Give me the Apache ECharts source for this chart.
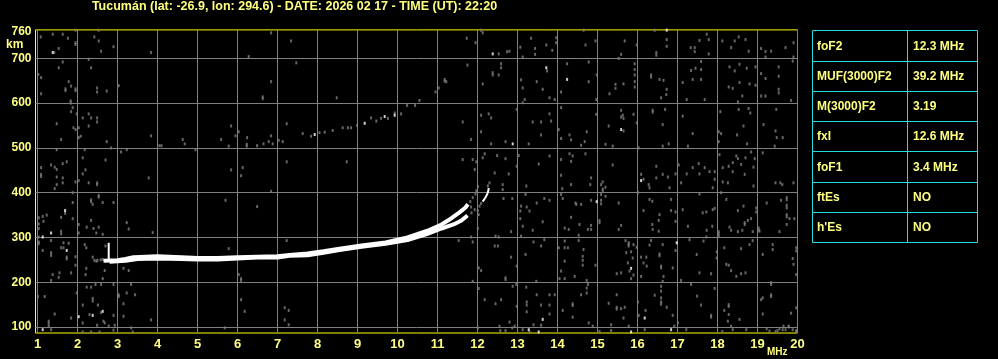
<!DOCTYPE html>
<html><head><meta charset="utf-8">
<script src="https://cdn.jsdelivr.net/npm/echarts@6/dist/echarts.min.js"></script>
<style>html,body{margin:0;padding:0;background:#000;}#c{width:998px;height:359px;}</style>
</head><body><div id="c"></div>
<script>
const titleText = 'Tucumán (lat: -26.9, lon: 294.6) - DATE: 2026 02 17 - TIME (UT): 22:20';
const freqTicks = [1,2,3,4,5,6,7,8,9,10,11,12,13,14,15,16,17,18,19,20];
const heightTicks = [100,200,300,400,500,600,700];
const heightLabels = [100,200,300,400,500,600,700,760];
const tableNames = ['foF2','MUF(3000)F2','M(3000)F2','fxI','foF1','ftEs',"h'Es"];
const tableValues = ['12.3 MHz','39.2 MHz','3.19','12.6 MHz','3.4 MHz','NO','NO'];

const traceO = [[2.65,248],[3.0,249],[3.2,252],[3.4,256],[4.0,258],[4.6,256],[5.0,254],[5.5,254],[6.0,256],[6.5,257],[7.0,258],[7.3,261],[7.75,264],[8.15,269],[8.55,275],[9.1,282],[9.7,289],[10.25,300],[10.75,315],[11.1,329],[11.35,343],[11.55,356],[11.7,367],[11.76,374]];
const traceX = [[2.8,246],[3.2,248],[3.5,252],[4.0,253],[4.6,252],[5.0,251],[5.5,251],[6.0,253],[6.5,255],[7.0,255],[7.3,259],[7.75,260],[8.15,266],[8.55,272],[9.1,279],[9.7,286],[10.25,294],[10.75,308],[11.1,320],[11.4,329],[11.6,338],[11.75,349]];
const traceXEnd = [[12.13,380],[12.19,388],[12.24,396],[12.27,404],[12.28,410]];
const spike = [[2.78,252],[2.78,288]];
const traceGray = [[11.82,380],[11.88,389],[11.95,397],[11.97,404],[12.01,414],[11.85,355],[11.93,362],[12.05,370],[12.09,376],[2.42,249],[2.5,249],[2.58,250]];

const noiseWhite = [[1.38,713],[1.69,360],[1.34,310],[1.13,301],[1.73,271],[2.63,135],[2.38,126],[2.03,123],[1.13,94],[7.93,530],[9.18,555],[9.68,570],[9.93,573],[12.38,710],[12.88,509],[13.28,94],[13.63,117],[13.53,89],[16.73,763],[13.72,679],[14.24,653],[15.59,541],[16.09,427],[14.98,380],[15.84,231],[16.98,288],[15.84,89],[16.18,120],[16.84,94]];

const noiseGrayLeft = [[1.08,748],[1.38,754],[1.63,754],[1.76,745],[1.95,763],[1.95,735],[1.95,731],[2.42,748],[2.53,763],[2.53,739],[2.59,716],[2.90,726],[1.53,722],[1.42,713],[3.84,713],[6.28,704],[6.84,757],[7.34,739],
[1.63,692],[2.28,698],[1.53,679],[2.34,679],[1.09,657],[1.78,648],[1.70,632],[1.70,628],[1.84,638],[1.95,632],[1.95,628],[2.49,634],[2.49,625],[2.73,627],[3.03,639],[1.09,621],[1.83,605],[1.83,600],[6.63,614],[6.63,610],[6.84,648],[1.02,664],
[1.88,590],[1.84,581],[1.98,576],[2.13,567],[2.28,576],[2.34,567],[2.49,567],[2.49,558],[1.48,554],[2.03,545],[2.28,549],[1.90,545],[1.95,541],[2.08,526],[2.03,523],[1.59,519],[2.73,514],[3.84,527],[4.63,519],[4.68,509],[5.59,519],[5.84,549],[6.03,536],[5.95,527],[6.24,523],[6.23,508],[6.23,504],[6.49,505],[6.65,509],[6.78,514],[6.88,509],[6.84,527],[7.03,517],[7.13,514],[7.23,554],[5.78,504],[4.05,505],[4.10,505],[2.84,500],
[1.48,496],[2.18,496],[3.09,491],[3.23,496],[2.13,478],[2.70,473],[1.73,469],[1.63,465],[1.34,462],[1.09,456],[1.43,457],[1.48,452],[2.20,451],[2.13,442],[1.09,441],[1.09,436],[1.48,435],[1.63,433],[1.63,422],[1.48,418],[1.95,424],[2.03,427],[2.28,422],[2.49,422],[2.49,418],[1.43,409],[3.78,433],[4.95,496],[5.84,451],[6.13,456],[6.09,438],[7.23,469],[6.84,403],
[1.88,400],[2.53,394],[2.53,390],[2.34,384],[2.34,380],[2.63,378],[2.90,378],[1.88,378],[2.38,374],[1.69,354],[1.13,347],[1.23,350],[1.59,345],[1.03,344],[1.88,342],[2.34,338],[1.15,336],[1.03,330],[2.03,329],[2.23,323],[2.40,320],[2.53,323],[1.03,320],[1.59,314],[1.59,308],[3.23,333],[3.28,319],[3.88,311],[5.70,383],[6.49,369],[2.03,310],[2.47,310],[2.63,307],[1.03,301],
[1.03,286],[1.03,290],[1.34,293],[1.65,288],[1.78,287],[1.59,277],[1.65,277],[1.34,266],[1.34,260],[1.73,256],[1.73,252],[1.13,271],[2.18,284],[2.22,277],[1.95,257],[2.70,281],[1.95,238],[2.38,256],[2.47,247],[2.63,251],[2.22,231],[2.68,226],[1.55,221],[1.84,221],[1.38,217],[1.53,211],[1.34,204],[2.20,217],[3.15,231],[3.28,226],[2.63,208],[5.78,275],[6.03,217],[6.09,208],[6.09,204],[7.23,293],
[2.23,189],[2.34,189],[2.45,195],[2.59,195],[2.90,195],[3.34,195],[3.03,172],[3.03,168],[3.23,176],[3.44,172],[1.18,168],[1.01,168],[1.98,176],[2.38,164],[2.38,158],[2.51,149],[2.13,149],[3.15,152],[3.15,124],[2.90,126],[2.59,132],[2.30,128],[1.84,120],[1.43,129],[1.28,113],[1.28,108],[1.28,102],[2.13,109],[2.49,104],[2.68,109],[2.78,102],[2.93,104],[2.65,113],[3.84,116],[6.09,161],[6.18,135],[7.18,143],[7.28,137],[7.18,116],[7.28,105],
[1.34,94],[2.13,89],[2.34,89],[2.55,89],[2.90,93],[3.34,98],[3.38,89],[5.68,98]];

const noiseGrayMid = [[7.47,690],[7.63,532],[7.84,526],[8.05,534],[8.18,535],[8.38,539],[8.63,545],[8.76,545],[8.84,545],[8.99,550],[9.34,567],[9.47,560],[9.59,566],[9.76,566],[9.93,578],[10.09,576],[10.24,595],[10.44,595],[10.55,606],[10.95,625],[11.03,634],[11.18,649],[11.18,653],[11.22,648],[8.48,612],[8.73,469],
[11.73,745],[11.95,735],[12.09,763],[12.13,757],[12.53,710],[12.74,715],[12.80,716],[13.07,725],[13.13,703],[13.34,745],[13.44,722],[13.44,709],[11.75,685],[12.38,668],[12.38,663],[12.53,663],[12.59,679],[12.59,688],[12.13,643],[13.09,652],[13.13,634],[13.48,648],[13.63,631],[13.18,608],[13.13,601],[12.98,586],[12.09,573],[12.28,576],[12.34,567],[11.63,558],[13.38,558],[13.59,558],[13.59,529],[12.09,536],[11.84,519],[12.34,509],[12.70,514],[13.28,509],[12.18,487],[12.13,478],[11.63,474],[11.88,474],[11.97,469],[12.49,483],[12.70,476],[13.03,483],[13.53,464],[11.93,452],[12.43,444],[12.78,442],[12.98,459],[12.30,422],[12.63,418],[12.63,407],[12.65,387],[12.26,415],[12.87,387],[13.09,370],[13.2,396],[13.22,415],[13.67,387],[13.48,377],[13.07,359],[13.23,368],[13.07,342],[13.13,325],[13.30,359],[13.38,316],[13.63,335],[12.84,313],[12.45,303],[12.53,301],[11.84,301],[11.88,290],[11.53,293],[12.01,320],[12.43,281],[12.51,281],[13.09,303],[13.40,290],[13.67,295],[13.59,281],[12.84,256],[12.98,236],[13.20,262],[12.03,232],[12.09,226],[12.70,206],[12.70,210],[12.97,195],[12.88,191],[11.88,202],[12.03,186],[13.22,189],[13.47,202],[13.48,172],[13.23,156],[13.23,149],[13.23,134],[13.59,149],[12.18,161],[12.59,161],[12.45,152],[12.98,146],[12.80,111],[12.93,102],[12.55,102],[12.57,92],[12.70,92],[12.87,98],[13.40,105],[13.59,104],[13.30,89],[13.13,94],[12.01,98],[12.01,360],[12.03,351],[11.84,368]];

const noiseGrayRight = [[13.97,746],[13.97,735],[14.65,763],[14.70,730],[14.95,739],[15.59,709],[15.68,739],[15.53,700],[15.98,730],[16.47,713],[16.47,707],[16.43,763],[16.73,742],[16.73,727],[17.33,724],[17.43,724],[17.43,715],[17.55,740],[17.73,754],[17.78,742],[17.78,710],[18.12,739],[18.34,724],[18.43,739],[18.53,748],[18.70,742],[18.78,716],[19.09,722],[19.20,715],[19.34,716],[19.20,703],[19.70,724],[19.90,735],[19.90,703],[13.72,730],[13.87,718],
[13.74,672],[14.24,688],[14.78,692],[14.78,648],[14.09,625],[13.80,612],[13.93,608],[15.45,642],[15.45,633],[15.30,621],[15.65,643],[15.93,688],[15.93,675],[15.93,663],[15.93,648],[15.93,636],[14.98,663],[14.97,608],[16.34,663],[16.34,658],[16.55,653],[16.65,651],[16.73,631],[16.59,612],[16.72,619],[17.13,646],[17.23,608],[17.34,673],[17.45,678],[17.59,693],[17.59,675],[17.38,653],[17.59,653],[17.68,608],[18.30,681],[18.43,672],[18.55,687],[18.73,678],[18.95,681],[18.28,636],[18.38,633],[18.55,646],[18.80,643],[18.62,616],[18.95,640],[18.51,603],[19.09,666],[19.20,655],[19.09,616],[19.20,616],[19.53,681],[19.53,660],[19.53,631],[19.53,623],[19.88,694],[19.84,606],
[14.09,590],[13.80,576],[13.84,560],[14.03,541],[14.09,521],[14.30,529],[14.34,518],[14.59,506],[14.73,536],[14.68,514],[15.59,584],[15.63,573],[15.59,569],[15.65,566],[15.90,575],[15.98,556],[15.65,538],[15.28,549],[15.20,508],[15.38,504],[14.97,575],[16.38,584],[16.38,580],[16.63,552],[16.69,586],[17.13,571],[17.38,532],[16.63,504],[16.78,509],[16.03,500],[17.26,504],[18.07,581],[18.03,536],[18.09,532],[18.03,514],[18.49,529],[18.53,586],[18.65,549],[18.74,509],[18.78,588],[18.82,578],[19.15,552],[19.45,538],[19.47,586],[19.48,523],[19.63,523],[19.43,504],
[13.80,482],[14.09,474],[14.30,487],[14.38,482],[14.34,470],[14.70,487],[15.38,462],[14.09,439],[14.34,418],[14.82,418],[14.12,409],[14.84,433],[15.09,418],[15.13,424],[15.20,412],[15.13,403],[15.13,408],[16.09,441],[16.15,430],[16.28,418],[16.30,411],[16.47,433],[16.47,459],[16.63,441],[16.76,435],[16.80,411],[16.95,442],[17.03,462],[17.09,422],[17.23,442],[17.38,456],[17.53,465],[17.55,442],[17.68,456],[17.80,447],[17.93,430],[17.93,447],[17.88,411],[18.13,456],[18.28,459],[18.38,447],[18.47,482],[18.38,467],[18.51,476],[18.59,463],[18.68,441],[18.70,478],[18.84,491],[18.93,476],[18.90,457],[18.90,415],[19.13,489],[19.45,422],[19.57,422],[19.62,418],[19.90,422],[18.05,485],[18.13,424],[18.26,422],
[13.80,383],[14.09,396],[14.13,387],[14.47,374],[14.59,374],[14.45,377],[14.84,383],[15.09,396],[15.09,383],[15.09,375],[15.20,392],[15.53,377],[14.34,345],[14.55,329],[14.84,327],[14.84,318],[14.18,321],[14.28,318],[14.53,305],[14.76,318],[15.05,338],[15.05,333],[15.53,318],[15.59,327],[16.01,401],[16.15,360],[16.30,385],[16.37,381],[16.55,351],[16.53,338],[16.37,329],[16.38,318],[16.53,314],[16.84,385],[16.84,360],[16.95,357],[16.95,336],[17.13,362],[17.26,325],[17.55,397],[17.63,355],[17.72,357],[17.73,316],[17.72,301],[17.87,325],[17.88,362],[17.93,365],[18.03,308],[18.03,303],[18.03,313],[18.09,400],[18.22,385],[18.30,323],[18.34,316],[18.51,360],[18.65,370],[18.51,313],[18.62,316],[18.68,333],[18.68,329],[18.76,338],[18.88,313],[18.97,366],[18.97,357],[18.84,342],[19.03,321],[19.03,316],[19.05,314],[19.23,377],[19.59,383],[19.73,389],[19.73,366],[19.73,351],[19.73,329],[19.73,384],[19.73,372],[19.73,346],[19.80,342],[19.92,342],[19.55,313],
[14.03,277],[14.18,292],[14.18,277],[14.26,277],[14.53,293],[14.65,273],[14.63,258],[14.63,249],[14.63,238],[14.95,238],[14.18,247],[14.09,225],[14.05,208],[14.18,208],[14.43,213],[14.73,204],[15.70,293],[15.78,288],[15.78,281],[15.78,285],[15.90,284],[15.98,278],[15.72,266],[15.84,268],[15.88,254],[15.76,243],[15.80,225],[15.90,216],[15.48,219],[15.59,221],[15.84,208],[16.09,213],[16.09,256],[16.15,243],[16.22,256],[16.34,293],[16.30,283],[16.23,236],[16.55,263],[16.55,259],[16.59,236],[16.59,232],[16.88,232],[16.95,271],[16.63,284],[16.65,213],[17.09,204],[17.30,295],[17.48,262],[17.65,292],[17.55,221],[17.84,219],[17.98,268],[17.98,254],[18.17,277],[18.22,240],[18.28,238],[18.34,226],[18.47,213],[18.59,219],[18.70,221],[18.59,275],[18.80,284],[18.88,293],[19.13,262],[19.38,284],[19.38,273],[19.88,253],[19.90,240],[19.97,277],[19.97,270],[19.97,217],
[13.80,172],[13.80,149],[13.80,129],[13.93,172],[14.13,137],[14.38,152],[14.38,148],[14.38,122],[14.59,172],[14.73,176],[14.73,187],[14.76,195],[14.78,109],[14.88,102],[15.05,90],[15.34,105],[15.34,92],[15.48,172],[15.48,144],[15.48,140],[15.28,153],[15.59,141],[15.68,144],[15.65,120],[15.78,102],[16.01,156],[16.03,126],[16.18,94],[16.20,137],[16.43,171],[16.59,191],[16.59,180],[16.59,165],[16.59,156],[16.59,151],[16.63,202],[16.73,144],[16.88,126],[16.92,102],[17.01,109],[17.22,94],[17.34,195],[17.49,169],[17.59,149],[17.84,126],[17.84,122],[17.93,186],[18.12,90],[18.28,150],[18.28,146],[18.28,128],[18.17,137],[18.26,113],[18.34,102],[18.38,94],[18.55,117],[18.72,94],[19.09,161],[19.13,165],[19.13,129],[19.34,199],[19.34,195],[19.34,172],[19.34,168],[19.23,96],[19.45,90],[19.55,96],[19.65,102],[19.70,94],[19.78,102],[19.88,94],[19.97,90],[19.84,131],[19.97,143],[19.3,91],[19.5,92],[19.63,94],[19.78,100],[19.97,92]];

const YEL = '#ffff80';
const GRAY = '#808080';
const CYAN = '#22dede';
const FONT = '"Liberation Sans", Arial, sans-serif';

const chart = echarts.init(document.getElementById('c'), null, {renderer: 'canvas'});

const graphics = [];
graphics.push({type:'text', x: 294.5, y: 7, style:{text: titleText, fill: YEL, font: 'bold 12.5px ' + FONT, textAlign:'center', textVerticalAlign:'middle'}});
graphics.push({type:'text', x: 6, y: 45, style:{text:'km', fill: YEL, font: 'bold 12px ' + FONT, textAlign:'left', textVerticalAlign:'middle'}});
graphics.push({type:'text', x: 767, y: 352, style:{text:'MHz', fill: YEL, font: 'bold 10px ' + FONT, textAlign:'left', textVerticalAlign:'middle'}});
const tX0 = 812.5, tX1 = 977.5, tXm = 907.5, tY0 = 30.5;
const rowEdges = [30.5, 61.5, 91.5, 121.5, 151.5, 182.5, 212.5, 242.5];
graphics.push({type:'rect', shape:{x:tX0, y:tY0, width:tX1-tX0, height:rowEdges[7]-tY0}, style:{fill:'none', stroke: CYAN, lineWidth:1}});
graphics.push({type:'line', shape:{x1:tXm, y1:tY0, x2:tXm, y2:rowEdges[7]}, style:{stroke: CYAN, lineWidth:1}});
for (let i = 1; i < 7; i++) {
  graphics.push({type:'line', shape:{x1:tX0, y1:rowEdges[i], x2:tX1, y2:rowEdges[i]}, style:{stroke: CYAN, lineWidth:1}});
}
for (let i = 0; i < 7; i++) {
  const cy = (rowEdges[i] + rowEdges[i+1]) / 2 + 0.5;
  graphics.push({type:'text', x: 817, y: cy, style:{text: tableNames[i], fill: YEL, font:'bold 12px ' + FONT, textVerticalAlign:'middle'}});
  graphics.push({type:'text', x: 913, y: cy, style:{text: tableValues[i], fill: YEL, font:'bold 12px ' + FONT, textVerticalAlign:'middle'}});
}

const option = {
  backgroundColor: '#000',
  animation: false,
  grid: {left: 35.5, right: 200.5, top: 29.9, bottom: 26, show: true, borderColor: '#ffff00', borderWidth: 1, backgroundColor: 'transparent'},
  xAxis: {type:'value', min: 0.95, max: 20,
    axisLine:{show:false},
    axisTick:{show:false, customValues: freqTicks},
    splitLine:{show:true, lineStyle:{color: GRAY, width: 1}},
    axisLabel:{customValues: freqTicks, color: YEL, fontFamily: FONT, fontWeight:'bold', fontSize: 13, margin: 5}},
  yAxis: {type:'value', min: 86.6, max: 763.6,
    axisLine:{show:false},
    axisTick:{show:false, customValues: heightTicks},
    splitLine:{show:true, lineStyle:{color: GRAY, width: 1}},
    axisLabel:{customValues: heightLabels, color: YEL, fontFamily: FONT, fontWeight:'bold', fontSize: 12, margin: 4}},
  graphic: graphics,
  series: [
    {type:'scatter', data: noiseGrayLeft.concat(noiseGrayMid, noiseGrayRight, traceGray), symbol:'rect', symbolSize:[2,3], itemStyle:{color: GRAY}, z: 3, silent: true},
    {type:'scatter', data: noiseWhite, symbol:'rect', symbolSize:[2,3], itemStyle:{color:'#ffffff'}, z: 4, silent: true},
    {type:'line', data: traceO, symbol:'none', lineStyle:{color:'#fff', width:4}, z: 5, silent: true},
    {type:'line', data: traceX, symbol:'none', lineStyle:{color:'#fff', width:4}, z: 5, silent: true},
    {type:'line', data: traceXEnd, symbol:'none', lineStyle:{color:'#fff', width:2}, z: 5, silent: true},
    {type:'line', data: spike, symbol:'none', lineStyle:{color:'#fff', width:2}, z: 5, silent: true}
  ]
};
chart.setOption(option);
</script>
</body></html>
